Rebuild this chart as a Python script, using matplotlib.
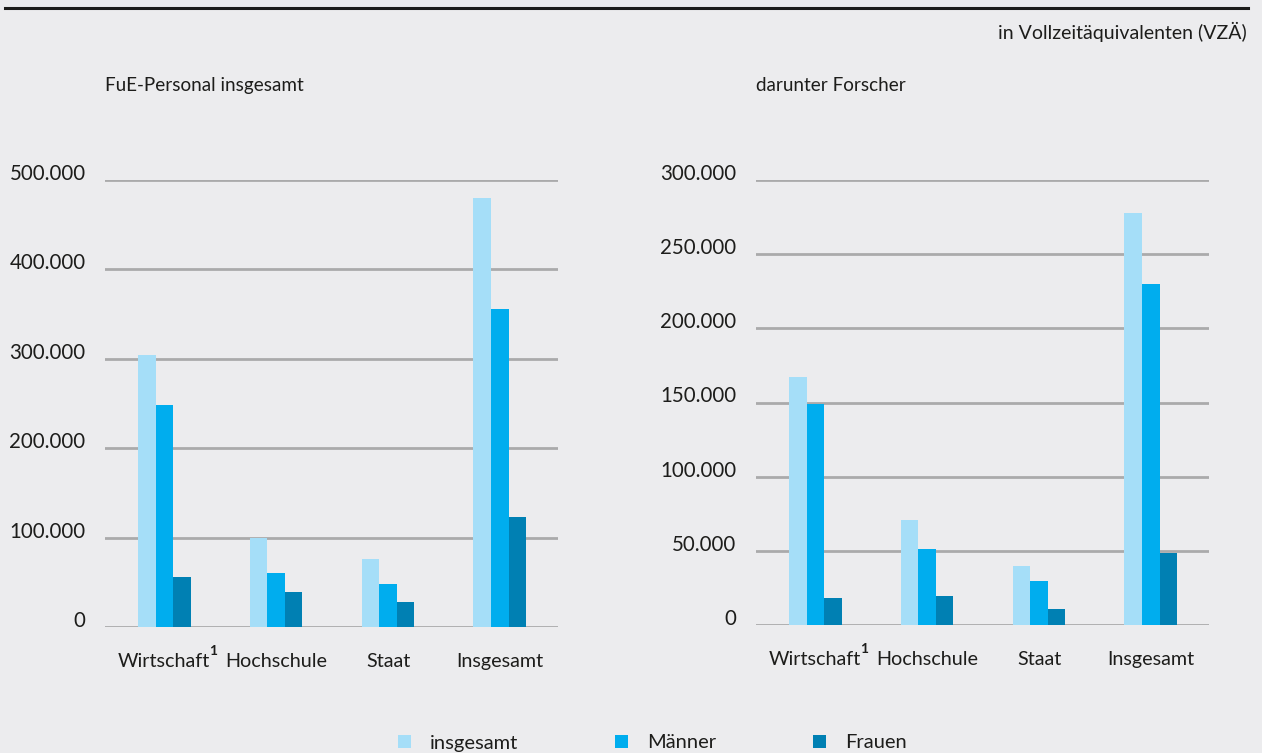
import matplotlib
matplotlib.use("Agg")
import matplotlib.pyplot as plt
import matplotlib.transforms as mtransforms
from matplotlib.lines import Line2D
from matplotlib.patches import Patch
import numpy as np

plt.rcParams["font.family"] = ["Lato", "DejaVu Sans"]

CATEGORIES = ["Wirtschaft", "Hochschule", "Staat", "Insgesamt"]
SERIES = ["insgesamt", "Männer", "Frauen"]
COLORS = ["#a5def8", "#00adee", "#0080b3"]

# FuE-Personal insgesamt (VZÄ)
PERSONAL = {
    "insgesamt": [304000, 99000, 76000, 479500],
    "Männer": [248000, 60000, 48000, 356000],
    "Frauen": [56000, 39000, 28000, 123000],
}
# darunter Forscher (VZÄ)
FORSCHER = {
    "insgesamt": [167000, 70600, 39600, 277500],
    "Männer": [148800, 51000, 29400, 229700],
    "Frauen": [18000, 19300, 10600, 48300],
}

LEFT_TICKS = [0, 100000, 200000, 300000, 400000, 500000]
RIGHT_TICKS = [0, 50000, 100000, 150000, 200000, 250000, 300000]

BG = "#ececee"
TXT = "#1d1d1b"
W, H = 1262, 753


def fmt(v):
    return f"{v:,.0f}".replace(",", ".")


def px_axes(fig, x0, x1, ytop, ybot):
    return fig.add_axes([x0 / W, (H - ybot) / H, (x1 - x0) / W, (ybot - ytop) / H])


def draw(fig, ax, data, ticks, title):
    x = np.arange(len(CATEGORIES))
    bw = 0.157
    for j, s in enumerate(SERIES):
        ax.bar(x + (j - 1) * bw, data[s], bw, color=COLORS[j], linewidth=0, zorder=3)
    ax.set_facecolor(BG)
    ax.set_xlim(-0.53, 3.52)
    ax.set_ylim(0, ticks[-1])
    ax.set_yticks(ticks)
    ax.set_yticklabels([fmt(t) for t in ticks], fontsize=14.8, color=TXT)
    for lab in ax.get_yticklabels():
        lab.set_verticalalignment("baseline")
    ax.set_xticks(x)
    ax.set_xticklabels(CATEGORIES, fontsize=14.2, color=TXT)
    # Wirtschaft + superscript is centred as a whole
    lab0 = ax.get_xticklabels()[0]
    lab0.set_transform(lab0.get_transform()
                       + mtransforms.ScaledTranslation(-4 / 100, 0, fig.dpi_scale_trans))
    ax.tick_params(axis="both", length=0)
    ax.tick_params(axis="y", pad=14)
    ax.tick_params(axis="x", pad=19)
    ax.grid(axis="y", color="#aaaaab", linewidth=2, zorder=0)
    ax.set_axisbelow(True)
    for sp in ax.spines.values():
        sp.set_visible(False)
    ax.text(0.44, -0.068, "1", transform=ax.get_xaxis_transform(), fontsize=10,
            fontweight="bold", color=TXT, ha="center", va="bottom")
    ax.text(0, 1.0 + 95 / 447, title, transform=ax.transAxes, fontsize=13.6,
            color=TXT, ha="left", va="center")


fig = plt.figure(figsize=(W / 100, H / 100), dpi=100, facecolor=BG)
ax1 = px_axes(fig, 105, 558, 180, 627)
ax2 = px_axes(fig, 756, 1209, 180, 625)
draw(fig, ax1, PERSONAL, LEFT_TICKS, "FuE-Personal insgesamt")
draw(fig, ax2, FORSCHER, RIGHT_TICKS, "darunter Forscher")

fig.add_artist(Line2D([5 / W, 1248 / W], [1 - 8 / H, 1 - 8 / H], color=TXT, lw=2.2))
fig.text(1247 / W, 1 - 32 / H, "in Vollzeitäquivalenten (VZÄ)", fontsize=14,
         color=TXT, ha="right", va="center")

handles = [Patch(facecolor=c, edgecolor="none") for c in COLORS]
fig.legend(handles, SERIES, loc="center left", bbox_to_anchor=(398 / W, 1 - 743 / H),
           ncol=3, frameon=False, fontsize=14.5, handlelength=0.65, handleheight=0.65,
           handletextpad=0.95, columnspacing=4.8, borderpad=0, borderaxespad=0,
           labelcolor=TXT)

fig.savefig("out.png", dpi=100, facecolor=BG)
